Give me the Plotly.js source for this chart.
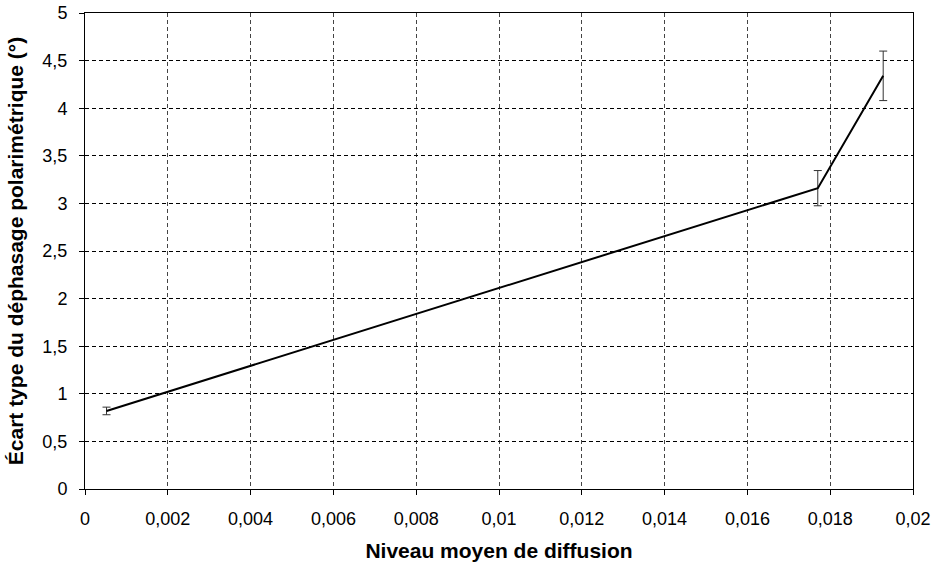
<!DOCTYPE html>
<html>
<head>
<meta charset="utf-8">
<script src="https://cdn.plot.ly/plotly-3.0.1.min.js"></script>
<style>html,body{margin:0;padding:0;background:#fff;}#chart{width:934px;height:567px;}</style>
</head>
<body>
<div id="chart"></div>
<script>
const xValues = [0.00052, 0.0177, 0.01928];
const yValues = [0.82, 3.16, 4.34];
const yErrors = [0.04, 0.185, 0.26];
const xTitle = "Niveau moyen de diffusion";
const yTitle = "Écart type du déphasage polarimétrique (°)";

const trace = {
  x: xValues, y: yValues, type: 'scatter', mode: 'lines',
  line: {color: '#000', width: 2},
  error_y: {type: 'data', array: yErrors, visible: true, color: '#333', thickness: 1, width: 4},
  hoverinfo: 'skip'
};
const fam = 'Liberation Sans, Arial, sans-serif';
const tickFont = {family: fam, size: 18, color: '#000'};
const titleFont = {family: fam, size: 21, color: '#000', weight: 'bold'};
const layout = {
  width: 934, height: 567,
  margin: {l: 85, r: 21, t: 13, b: 78},
  paper_bgcolor: '#fff', plot_bgcolor: '#fff',
  separators: ', ',
  showlegend: false,
  font: tickFont,
  xaxis: {
    range: [0, 0.02], dtick: 0.002, tick0: 0,
    showgrid: true, gridcolor: '#444', griddash: '4px,3px', gridwidth: 1,
    showline: true, linecolor: '#000', linewidth: 1, mirror: true,
    ticks: 'outside', ticklen: 5, tickcolor: '#000', ticklabelstandoff: 8,
    zeroline: false, tickfont: tickFont,
    title: {text: xTitle, font: titleFont, standoff: 15}
  },
  yaxis: {
    range: [0, 5], dtick: 0.5, tick0: 0,
    showgrid: true, gridcolor: '#000', griddash: '4px,3px', gridwidth: 1,
    showline: true, linecolor: '#000', linewidth: 1, mirror: true,
    ticks: 'outside', ticklen: 5, tickcolor: '#000', ticklabelstandoff: 8,
    zeroline: false, tickfont: tickFont,
    title: {text: yTitle, font: titleFont, standoff: 13}
  }
};
Plotly.newPlot('chart', [trace], layout, {displayModeBar: false, staticPlot: true});
</script>
</body>
</html>
